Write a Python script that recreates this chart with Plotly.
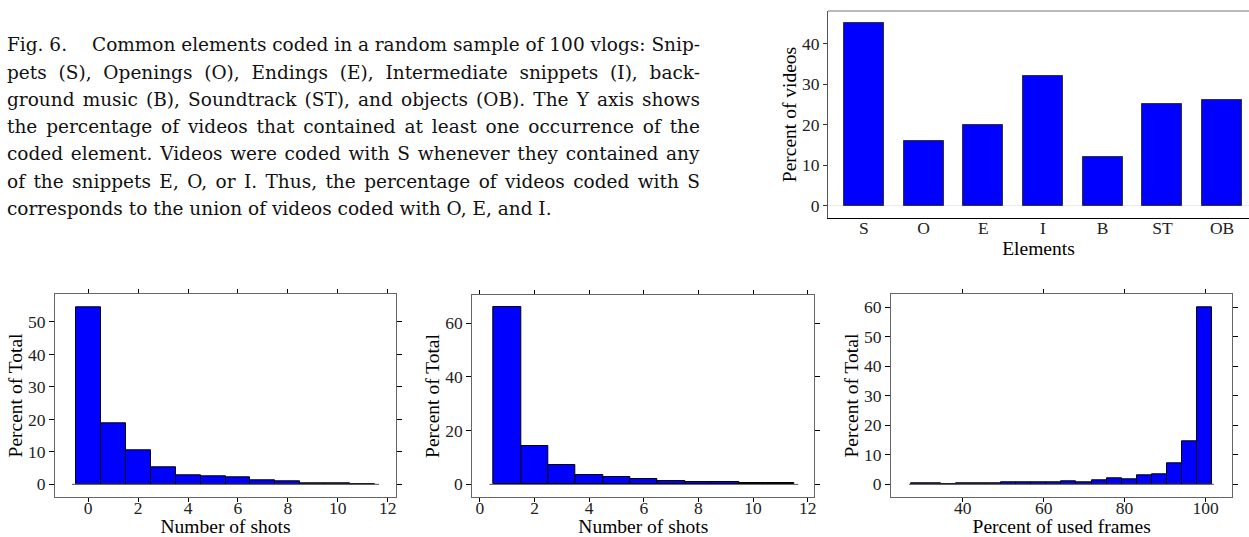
import json
import plotly.graph_objects as go

# ---------------- data ----------------
elements = ["S", "O", "E", "I", "B", "ST", "OB"]
pct_videos = [45, 16, 20, 32, 12, 25, 26]

shots_a_bins = [0, 1, 2, 3, 4, 5, 6, 7, 8, 9, 10, 11]
shots_a_pct = [54.5, 18.8, 10.5, 5.1, 2.8, 2.5, 2.3, 1.2, 0.9, 0.3, 0.3, 0.1]

shots_b_bins = [1, 2, 3, 4, 5, 6, 7, 8, 9, 10, 11]
shots_b_pct = [66.0, 14.3, 7.2, 3.4, 2.9, 2.0, 1.3, 0.8, 0.8, 0.5, 0.6]

frames_bins = [29.16, 32.87, 36.58, 40.29, 44.0, 47.71, 51.42, 55.13, 58.84, 62.55,
               66.26, 69.97, 73.68, 77.39, 81.1, 84.81, 88.52, 92.23, 95.94, 99.65]
frames_width = 3.71
frames_pct = [0.2, 0.2, 0.0, 0.2, 0.2, 0.2, 0.8, 0.8, 0.6, 0.6,
              0.9, 0.6, 1.2, 1.9, 1.8, 3.1, 3.5, 7.2, 14.7, 60.0]

caption_label = "Fig. 6."
caption_lines = [
    "Common elements coded in a random sample of 100 vlogs: Snip-",
    "pets (S), Openings (O), Endings (E), Intermediate snippets (I), back-",
    "ground music (B), Soundtrack (ST), and objects (OB). The Y axis shows",
    "the percentage of videos that contained at least one occurrence of the",
    "coded element. Videos were coded with S whenever they contained any",
    "of the snippets E, O, or I. Thus, the percentage of videos coded with S",
    "corresponds to the union of videos coded with O, E, and I.",
]

FONT = "Liberation Serif"
CAP_FONT = "DejaVu Serif"
W, H = 1249, 537
CAP_LEFT, CAP_RIGHT = 5, 700


def px_x(x):
    return x / W


def px_y(y):
    return 1 - y / H


fig = go.Figure()

# top bar chart
fig.add_trace(go.Bar(x=elements, y=pct_videos, width=0.67,
                     marker=dict(color="#0000ff", line=dict(color="#333333", width=1)),
                     xaxis="x", yaxis="y", showlegend=False))

# histograms
fig.add_trace(go.Bar(x=shots_a_bins, y=shots_a_pct, width=1.0,
                     marker=dict(color="#0000ff", line=dict(color="#000000", width=1)),
                     xaxis="x2", yaxis="y2", showlegend=False))
fig.add_trace(go.Bar(x=shots_b_bins, y=shots_b_pct, width=1.0,
                     marker=dict(color="#0000ff", line=dict(color="#000000", width=1)),
                     xaxis="x3", yaxis="y3", showlegend=False))
fig.add_trace(go.Bar(x=frames_bins, y=frames_pct, width=frames_width,
                     marker=dict(color="#0000ff", line=dict(color="#000000", width=1)),
                     xaxis="x4", yaxis="y4", showlegend=False))

# baselines at zero under each histogram
for xs, w, ax in [(shots_a_bins, 1.0, "x2"), (shots_b_bins, 1.0, "x3"), (frames_bins, frames_width, "x4")]:
    pad = 0.15 * w
    fig.add_trace(go.Scatter(x=[min(xs) - w / 2 - pad, max(xs) + w / 2 + pad], y=[0, 0],
                             mode="lines", line=dict(color="#555555", width=1),
                             xaxis=ax, yaxis="y" + ax[1:], showlegend=False, hoverinfo="skip"))

tickfont = dict(family=FONT, size=17.5, color="#222222")
titlefont = dict(family=FONT, size=19.5, color="#000000")

layout = dict(
    width=W, height=H,
    margin=dict(l=0, r=0, t=0, b=0, autoexpand=False),
    paper_bgcolor="white", plot_bgcolor="white",
    bargap=0,
    font=dict(family=FONT, color="#000"),
    # top chart
    xaxis=dict(domain=[px_x(828), 1.0], range=[-0.6, 6.45], anchor="y", automargin=False,
               showline=True, linecolor="#000", linewidth=1, ticks="",
               tickfont=tickfont, ticklabelstandoff=-6,
               title=dict(text="Elements", font=titlefont, standoff=0),
               showgrid=False),
    yaxis=dict(domain=[px_y(218), px_y(11)], range=[-3, 48], anchor="x", automargin=False,
               tickvals=[0, 10, 20, 30, 40], ticks="outside", ticklen=4, tickcolor="#333",
               showline=True, linecolor="#555", linewidth=1,
               zeroline=True, zerolinecolor="#ebebeb", zerolinewidth=1, showgrid=False,
               tickfont=tickfont, title=dict(text="Percent of videos", font=titlefont, standoff=0)),
)

hist_specs = [
    ("2", [55, 396], [294.3, 496.7], [-1.33, 12.33], [-3.8, 58.5], [0, 2, 4, 6, 8, 10, 12], [0, 10, 20, 30, 40, 50], "Number of shots"),
    ("3", [472.3, 814.3], [295, 497], [-0.28, 12.24], [-4.7, 70.5], [0, 2, 4, 6, 8, 10, 12], [0, 20, 40, 60], "Number of shots"),
    ("4", [891, 1232.3], [294.3, 497], [22.3, 106.6], [-4.3, 64.4], [40, 60, 80, 100], [0, 10, 20, 30, 40, 50, 60], "Percent of used frames"),
]
for n, xd, yd, xr, yr, xt, yt, xtitle in hist_specs:
    layout["xaxis" + n] = dict(domain=[px_x(xd[0]), px_x(xd[1])], range=xr, anchor="y" + n,
                               automargin=False,
                               tickvals=xt, ticks="outside", ticklen=4, tickcolor="#000",
                               showline=True, mirror="ticks", linecolor="#666", linewidth=1,
                               showgrid=False, zeroline=False, tickfont=tickfont,
                               ticklabelstandoff=-9,
                               title=dict(text=xtitle, font=titlefont, standoff=8))
    layout["yaxis" + n] = dict(domain=[px_y(yd[1]), px_y(yd[0])], range=yr, anchor="x" + n,
                               automargin=False,
                               tickvals=yt, ticks="outside", ticklen=5, tickcolor="#000",
                               showline=True, mirror="ticks", linecolor="#666", linewidth=1,
                               showgrid=False, zeroline=False, tickfont=tickfont,
                               title=dict(text="Percent of Total", font=titlefont, standoff=0))

fig.update_layout(**layout)

# top border of the bar chart
fig.add_shape(type="line", xref="paper", yref="paper", x0=px_x(828), x1=1.0,
              y0=px_y(11), y1=px_y(11), line=dict(color="#777", width=1))

# caption
cap_font = dict(family=CAP_FONT, size=18.5, color="#111")
line_y = [45, 72.2, 99.4, 126.6, 153.8, 181, 208.2]
fig.add_annotation(text=caption_label, x=px_x(CAP_LEFT), y=px_y(line_y[0]), xref="paper", yref="paper",
                   xanchor="left", yanchor="middle", showarrow=False, font=cap_font)
for i, (txt, yy) in enumerate(zip(caption_lines, line_y)):
    x0 = 90 if i == 0 else CAP_LEFT
    fig.add_annotation(text=txt, x=px_x(x0), y=px_y(yy), xref="paper", yref="paper",
                       xanchor="left", yanchor="middle", showarrow=False, font=cap_font)

# justify all caption lines except the last one (word spacing adjusted in the page)
justify = caption_lines[:-1]
post_js = """
(function(){
  var gd = document.getElementById('{plot_id}');
  var J = %s;
  var RIGHT = %d;
  var base = gd.getBoundingClientRect().left;
  var texts = gd.querySelectorAll('g.annotation text.annotation-text');
  texts.forEach(function(t){
    if (J.indexOf(t.textContent) < 0) return;
    var n = t.textContent.split(' ').length - 1;
    if (n < 1) return;
    var r0 = t.getBoundingClientRect();
    var extra = (base + RIGHT - r0.left - r0.width) / n;
    t.style.wordSpacing = extra.toFixed(2) + 'px';
    var r1 = t.getBoundingClientRect();
    var x = parseFloat(t.getAttribute('x'));
    if (isNaN(x)) x = 0;
    t.setAttribute('x', (x + (r0.left - r1.left)).toFixed(2));
  });
})();
""" % (json.dumps(justify), CAP_RIGHT)

fig.write_html("out.html", post_script=post_js)
